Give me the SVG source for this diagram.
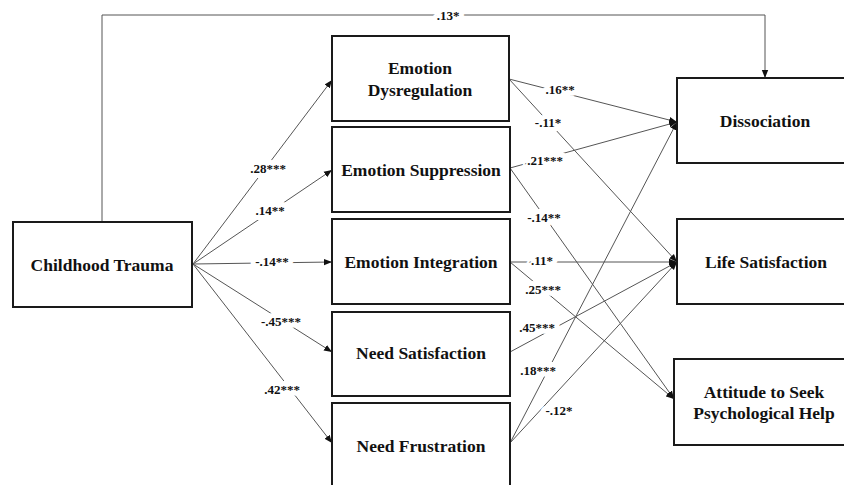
<svg xmlns="http://www.w3.org/2000/svg" width="844" height="485" viewBox="0 0 844 485">
<defs>
<marker id="ah" markerUnits="userSpaceOnUse" markerWidth="9" markerHeight="8" refX="8" refY="4" orient="auto">
<path d="M0,0.8 L8,4 L0,7.2 Z" fill="#111"/>
</marker>
<style>
.box{fill:#fff;stroke:#1a1a1a;stroke-width:2}
.nt{font-weight:bold;font-size:17.5px;fill:#111;text-anchor:middle}
.ln{fill:none;stroke:#555;stroke-width:1;marker-end:url(#ah)}
.lb{font-weight:bold;font-size:13px;fill:#111;text-anchor:middle;stroke:#fff;stroke-width:10;paint-order:stroke;stroke-linejoin:round}
</style>
</defs>
<rect width="844" height="485" fill="#fff"/>
<g id="connectors" font-family="Liberation Serif, Times New Roman, serif">
<polyline class="ln" points="102,222 102,15 765,15 765,78"/>
<line class="ln" x1="193" y1="264" x2="332" y2="80"/>
<line class="ln" x1="193" y1="264" x2="332" y2="170"/>
<line class="ln" x1="193" y1="264" x2="332" y2="262"/>
<line class="ln" x1="193" y1="264" x2="332" y2="352"/>
<line class="ln" x1="193" y1="264" x2="332" y2="443"/>
<line class="ln" x1="509" y1="79" x2="677" y2="122"/>
<line class="ln" x1="509" y1="79" x2="677" y2="262"/>
<line class="ln" x1="510" y1="168" x2="677" y2="122"/>
<line class="ln" x1="510" y1="168" x2="674" y2="399"/>
<line class="ln" x1="510" y1="262" x2="677" y2="262"/>
<line class="ln" x1="510" y1="262" x2="674" y2="399"/>
<line class="ln" x1="510" y1="352" x2="677" y2="262"/>
<line class="ln" x1="510" y1="443" x2="677" y2="122"/>
<line class="ln" x1="510" y1="443" x2="677" y2="262"/>
<text class="lb" x="448" y="19.5">.13*</text>
<text class="lb" x="268" y="172.5">.28***</text>
<text class="lb" x="270" y="214.5">.14**</text>
<text class="lb" x="272" y="265.5">-.14**</text>
<text class="lb" x="281" y="325.5">-.45***</text>
<text class="lb" x="282" y="393.5">.42***</text>
<text class="lb" x="560" y="93.5">.16**</text>
<text class="lb" x="548" y="126.5">-.11*</text>
<text class="lb" x="545" y="164.5">.21***</text>
<text class="lb" x="544" y="221.5">-.14**</text>
<text class="lb" x="542" y="264.5">.11*</text>
<text class="lb" x="543" y="293.5">.25***</text>
<text class="lb" x="537" y="331.5">.45***</text>
<text class="lb" x="538" y="374.5">.18***</text>
<text class="lb" x="559" y="414.5">-.12*</text>
</g>
<g id="nodes" font-family="Liberation Serif, Times New Roman, serif">
<g id="childhood-trauma">
<rect class="box" x="13" y="222" width="179" height="85"/>
<text class="nt" x="102" y="271">Childhood Trauma</text>
</g>
<g id="emotion-dysregulation">
<rect class="box" x="332" y="36" width="177" height="85"/>
<text class="nt" x="420" y="74">Emotion</text>
<text class="nt" x="420" y="96">Dysregulation</text>
</g>
<g id="emotion-suppression">
<rect class="box" x="332" y="127" width="178" height="85"/>
<text class="nt" x="421" y="176">Emotion Suppression</text>
</g>
<g id="emotion-integration">
<rect class="box" x="332" y="219" width="178" height="85"/>
<text class="nt" x="421" y="268">Emotion Integration</text>
</g>
<g id="need-satisfaction">
<rect class="box" x="332" y="312" width="178" height="84"/>
<text class="nt" x="421" y="359">Need Satisfaction</text>
</g>
<g id="need-frustration">
<rect class="box" x="332" y="403" width="178" height="90"/>
<text class="nt" x="421" y="452">Need Frustration</text>
</g>
<g id="dissociation">
<rect class="box" x="677" y="78" width="180" height="85"/>
<text class="nt" x="765" y="127">Dissociation</text>
</g>
<g id="life-satisfaction">
<rect class="box" x="677" y="219" width="180" height="85"/>
<text class="nt" x="766" y="268">Life Satisfaction</text>
</g>
<g id="attitude-help">
<rect class="box" x="674" y="359" width="183" height="86"/>
<text class="nt" x="764" y="398">Attitude to Seek</text>
<text class="nt" x="764" y="419">Psychological Help</text>
</g>
</g>
</svg>
